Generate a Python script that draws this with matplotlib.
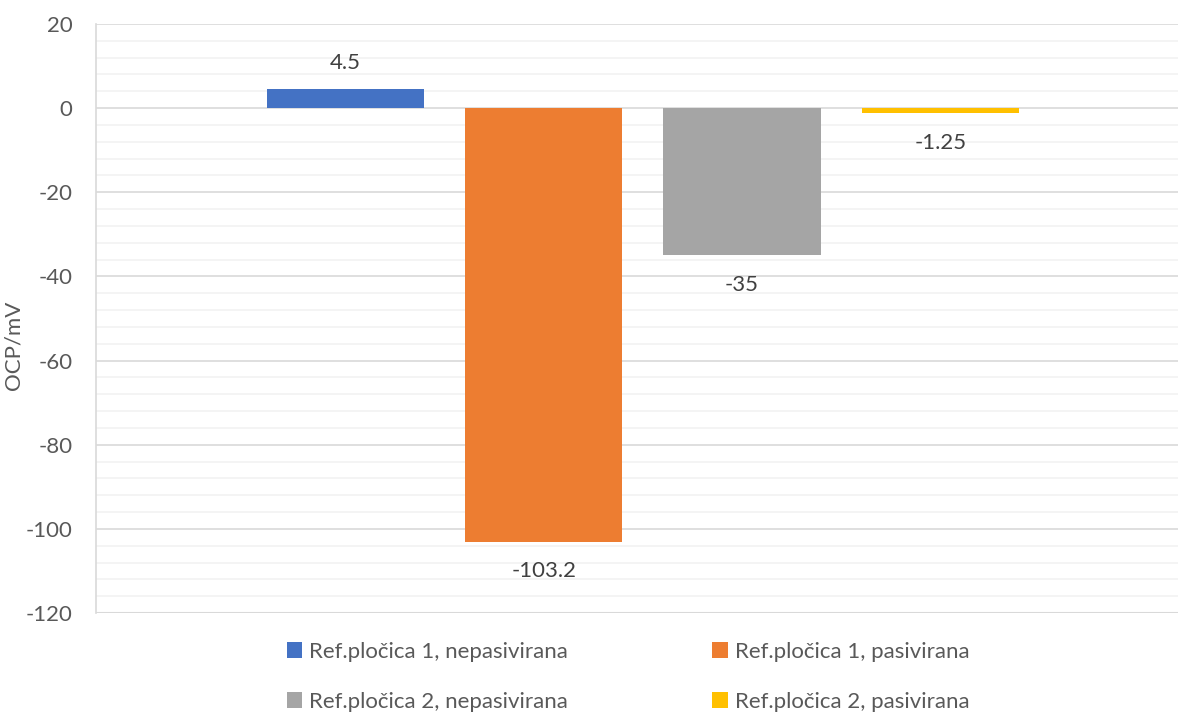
import numpy as np
import matplotlib.pyplot as plt
from matplotlib.ticker import MultipleLocator

plt.rcParams['font.family'] = ['Lato', 'DejaVu Sans']
plt.rcParams['axes.unicode_minus'] = False

# data
series = ["Ref.pločica 1, nepasivirana", "Ref.pločica 1, pasivirana",
          "Ref.pločica 2, nepasivirana", "Ref.pločica 2, pasivirana"]
values = [4.5, -103.2, -35, -1.25]
labels = ["4.5", "-103.2", "-35", "-1.25"]
colors = ["#4472C4", "#ED7D31", "#A5A5A5", "#FFC000"]

fs = 16

fig = plt.figure(figsize=(11.78, 7.13), dpi=100)
ax = fig.add_axes([96/1178, 100/713, (1178-96)/1178, (613-24)/713])

pos = np.arange(len(values))
handles = []
for i in range(len(values)):
    b = ax.bar(pos[i], values[i], width=0.793, color=colors[i], label=series[i], zorder=3)
    handles.append(b)
    if values[i] >= 0:
        ax.annotate(labels[i], (pos[i], values[i]), xytext=(0, 19), textcoords="offset points",
                    ha="center", va="center", fontsize=fs, color="#404040")
    else:
        ax.annotate(labels[i], (pos[i], values[i]), xytext=(0, -21), textcoords="offset points",
                    ha="center", va="center", fontsize=fs, color="#404040")

ax.set_ylim(-120, 20)
ax.set_xlim(-1.26, 4.2)
ax.yaxis.set_major_locator(MultipleLocator(20))
ax.yaxis.set_minor_locator(MultipleLocator(4))
ax.grid(which="major", axis="y", color="#D9D9D9", lw=1.2, zorder=0)
ax.grid(which="minor", axis="y", color="#F2F2F2", lw=1.2, zorder=0)
ax.set_xticks([])
ax.tick_params(axis="y", which="both", length=0, labelsize=fs, labelcolor="#595959", pad=17)
for s in ["top", "right", "bottom"]:
    ax.spines[s].set_visible(False)
ax.spines["left"].set_color("#D9D9D9")
ax.spines["left"].set_linewidth(1.2)
ax.axhline(-120, color="#D9D9D9", lw=1.5, zorder=1)

ax.set_ylabel("OCP/mV", fontsize=fs, color="#595959")
ax.yaxis.set_label_coords(-0.067, 0.455)

# legend goes row by row: reorder for column-major fill
order = [0, 2, 1, 3]
fig.legend([handles[k] for k in order], [series[k] for k in order],
           loc="center", bbox_to_anchor=(628/1178, 1 - 677/713), ncol=2, frameon=False,
           fontsize=fs, labelcolor="#595959", handlelength=0.7, handleheight=0.7,
           handletextpad=0.3, columnspacing=6.5, labelspacing=1.35)

fig.savefig("out.png", dpi=100)
